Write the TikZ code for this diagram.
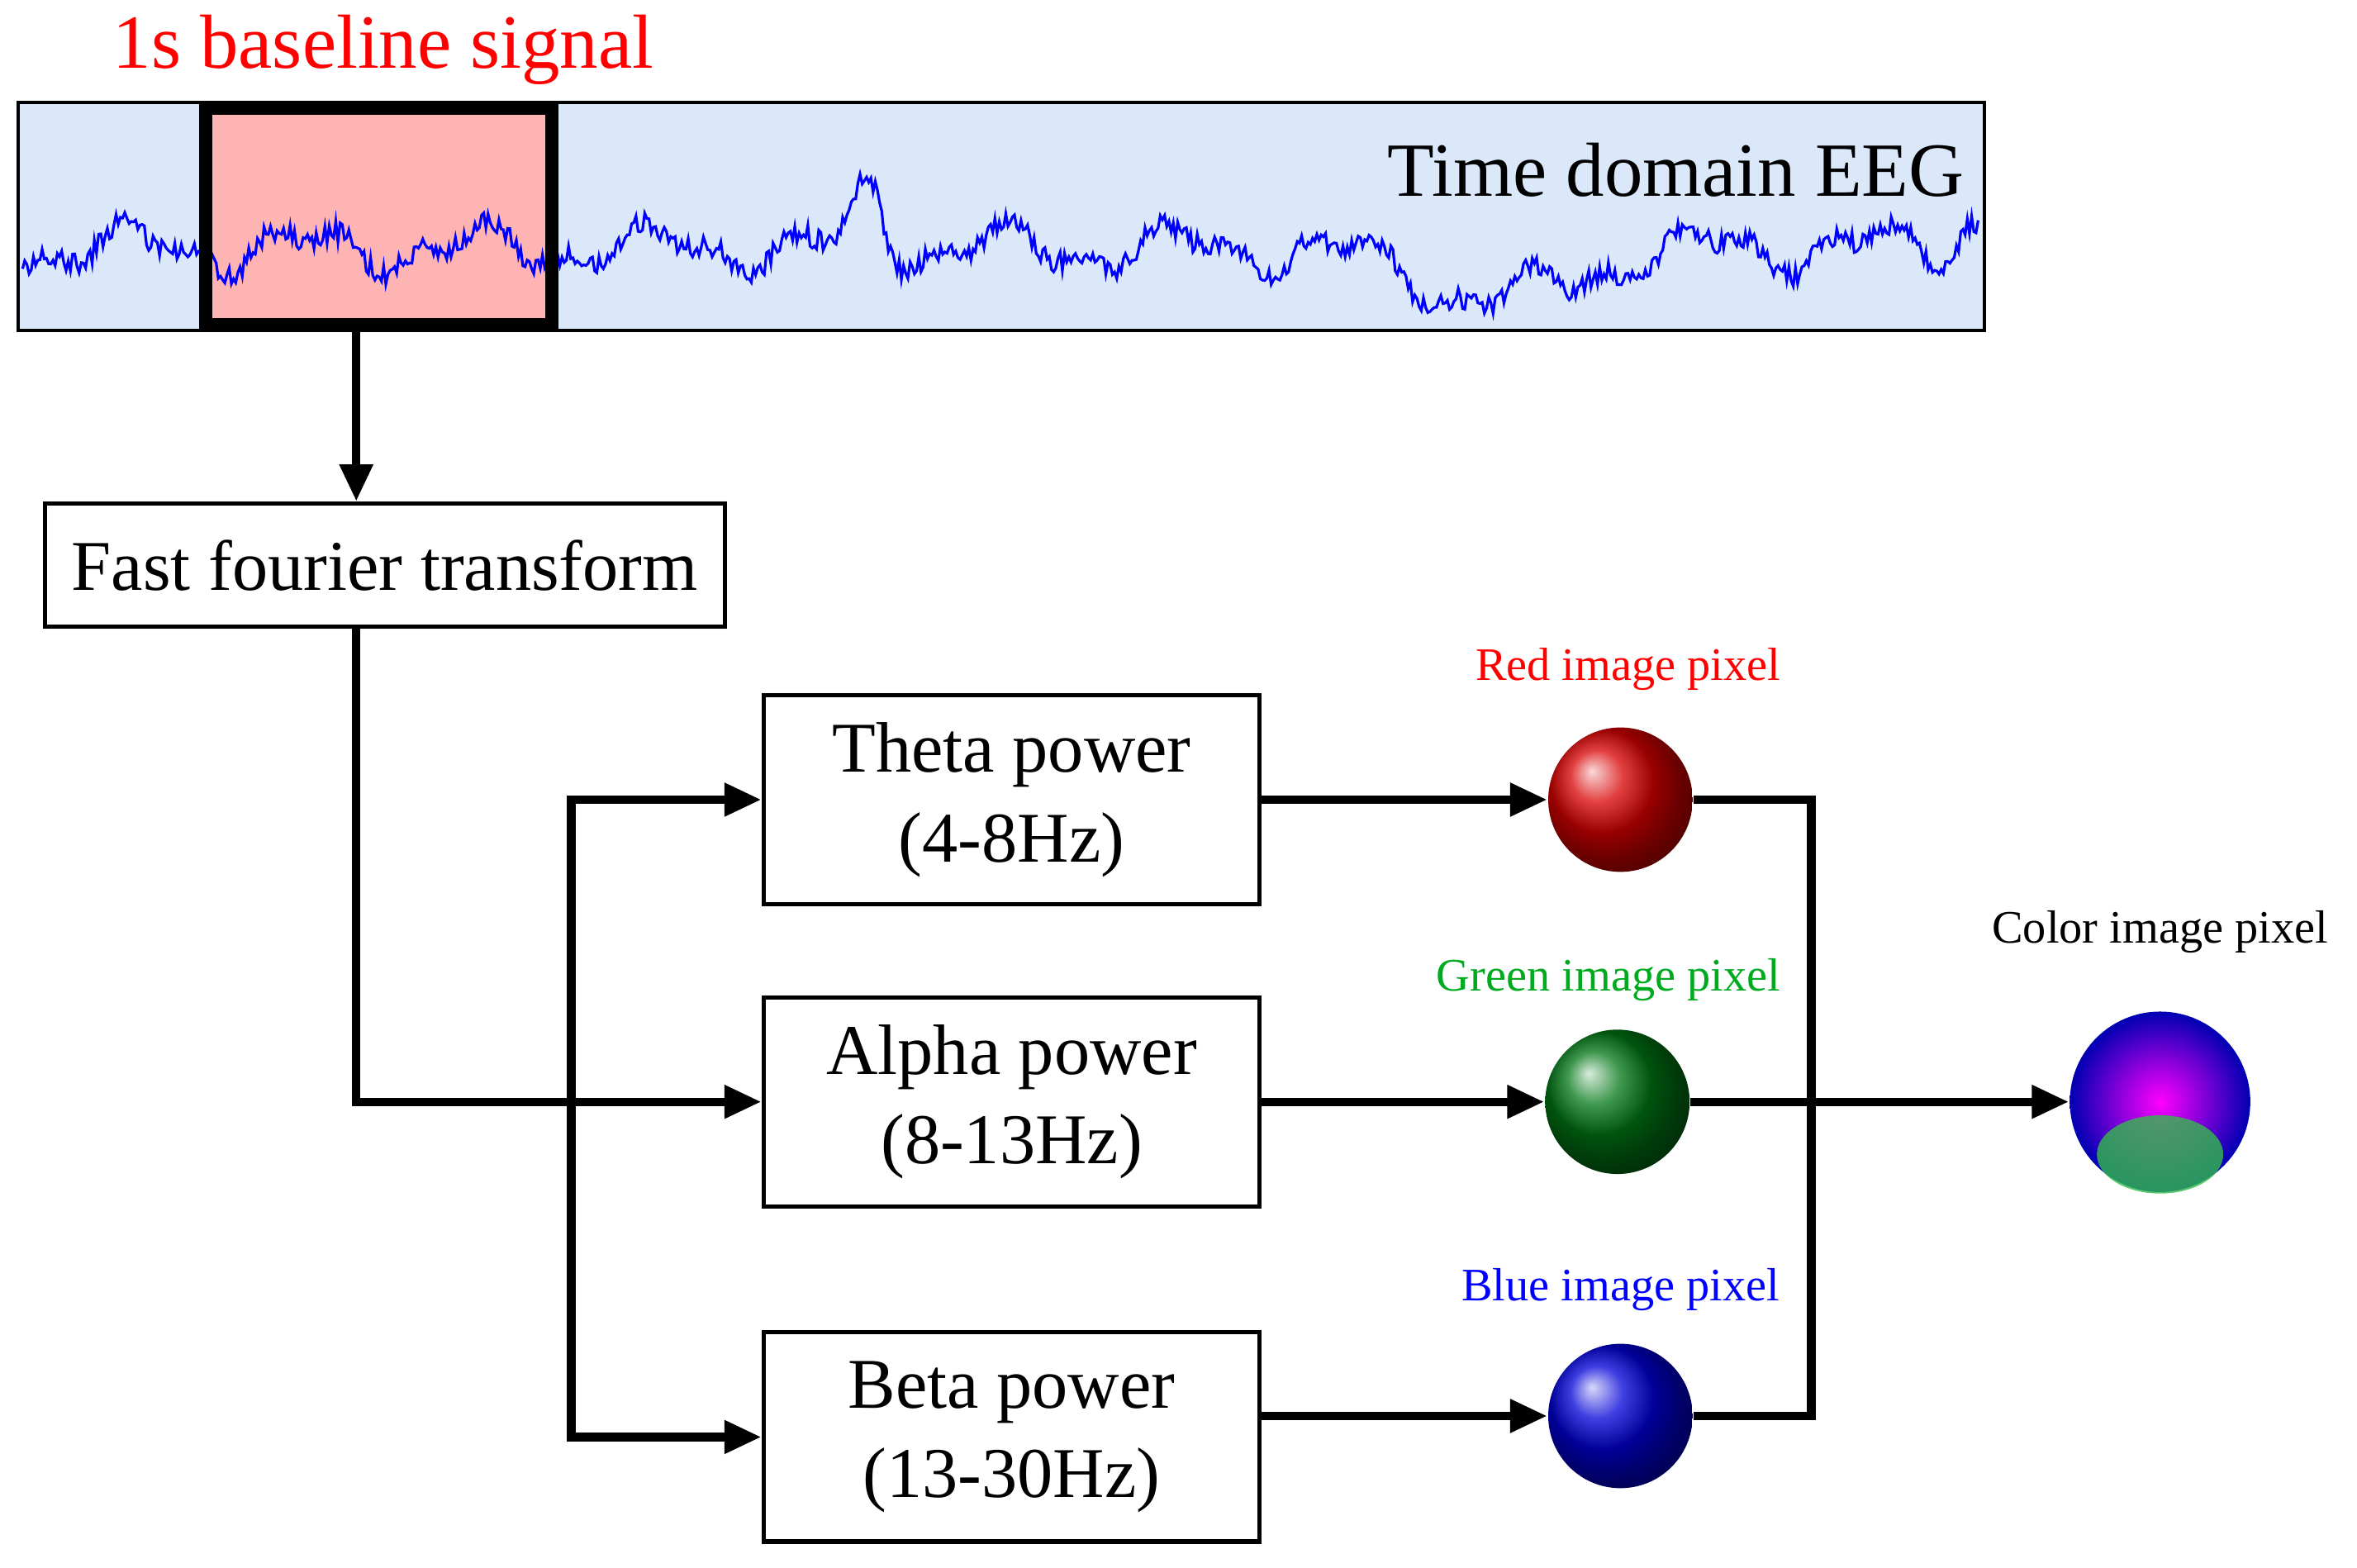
\documentclass[tikz,border=0pt]{standalone}
\usepackage{fontspec}
\setmainfont{Liberation Serif}
\usetikzlibrary{arrows.meta,shadings}
\begin{document}
\begin{tikzpicture}[x=0.01cm,y=-0.01cm]
    \tikzset{
        link/.style={line width=1.6pt},
        arrow/.style={link,-{Triangle[length=7pt,width=6pt]}},
        stage/.style={draw,line width=0.8pt,fill=white,inner sep=0pt,font=\fontsize{13.5}{17}\selectfont,align=center},
        pixel/.style={circle,minimum size=0.96cm,inner sep=0pt},
        pixlabel/.style={font=\fontsize{8.8}{11}\selectfont}
    }
    \definecolor{eegbg}{RGB}{218,232,250}
    \definecolor{basebg}{RGB}{255,180,180}
    \definecolor{pixgreen}{RGB}{0,170,30}
    \useasboundingbox (0,0) rectangle (1568,1043);

    % EEG strip
    \fill[eegbg] (12,68) rectangle (1320,220);
    \fill[basebg] (137,72) rectangle (367,216);
    \pgfmathsetseed{7}
    \draw[blue,line width=0.5pt] plot[domain=15:1316,samples=900,variable=\x]
        (\x,{165+12*sin(3.1*\x)+7*sin(7.3*\x+40)+7*rand-40*exp(-((\x-578)/12)^2)+35*exp(-((\x-995)/70)^2)-20*exp(-((\x-1312)/15)^2)});
    \draw[line width=0.6pt] (12,68) rectangle (1320,220);
    \draw[line width=2.5pt] (137,72) rectangle (367,216);
    \node[red,font=\fontsize{14.5}{18}\selectfont] (lbl) at (255,33) {1s baseline signal};
    \node[font=\fontsize{14.5}{18}\selectfont] (eeg) at (1115,113) {Time domain EEG};
    \coordinate (base) at (237,218);

    % Processing boxes
    \node[stage,minimum width=4.52cm,minimum height=0.82cm] (fft) at (256,376) {Fast fourier transform};
    \node[stage,minimum width=3.3cm,minimum height=1.39cm] (theta) at (673,532) {Theta power\\(4-8Hz)};
    \node[stage,minimum width=3.3cm,minimum height=1.39cm] (alpha) at (673,733) {Alpha power\\(8-13Hz)};
    \node[stage,minimum width=3.3cm,minimum height=1.39cm] (beta) at (673,956) {Beta power\\(13-30Hz)};

    % Pixels
    \node[pixel,shading=ball,ball color=red!85!black] (rpix) at (1078,532) {};
    \node[pixel,shading=ball,ball color=pixgreen!70!black] (gpix) at (1076,733) {};
    \node[pixel,shading=ball,ball color=blue!85!black] (bpix) at (1078,942) {};
    \node[pixel,minimum size=1.2cm,outer color=blue!70!black,inner color=magenta] (cpix) at (1437,733) {};
    \fill[pixgreen!80!white,opacity=0.8] (1437,768) ellipse (0.42cm and 0.26cm);
    \node[pixlabel,red] (rlbl) at (1083,445) {Red image pixel};
    \node[pixlabel,pixgreen] (glbl) at (1070,652) {Green image pixel};
    \node[pixlabel,blue] (blbl) at (1078,858) {Blue image pixel};
    \node[pixlabel] (clbl) at (1437,620) {Color image pixel};

    % Connectors
    \coordinate (fork) at (380,733);
    \coordinate (merge) at (1205,733);
    \draw[arrow] (base) -- (fft.north -| base);
    \draw[arrow] (fft.south -| base) |- (alpha.west);
    \draw[arrow] (fork) |- (theta.west);
    \draw[arrow] (fork) |- (beta.west);
    \draw[arrow] (theta.east) -- (rpix.west);
    \draw[arrow] (alpha.east) -- (gpix.west);
    \draw[arrow] (bpix.west -| beta.east) -- (bpix.west);
    \draw[link] (rpix.east) -| (merge) |- (bpix.east);
    \draw[arrow] (gpix.east) -- (cpix.west);
\end{tikzpicture}
\end{document}
